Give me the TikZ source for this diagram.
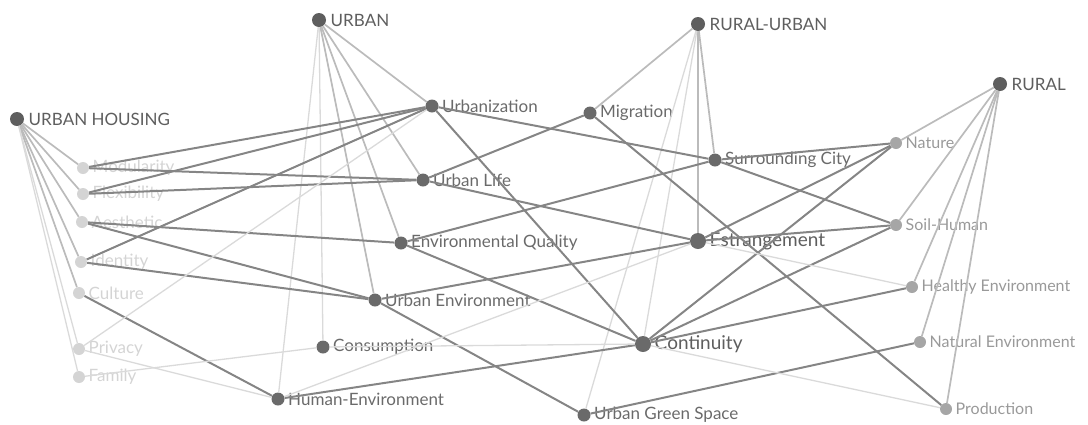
\documentclass[tikz,border=0pt]{standalone}
\usepackage{fontspec}
\setmainfont{Lato}
\usetikzlibrary{positioning}

\definecolor{hubgray}{HTML}{5E5E5E}
\definecolor{midgray}{HTML}{6A6A6A}
\definecolor{leftgray}{HTML}{D4D4D4}
\definecolor{rightgray}{HTML}{A6A6A6}
\definecolor{strongline}{HTML}{858585}
\definecolor{mediumline}{HTML}{BBBBBB}
\definecolor{faintline}{HTML}{DADADA}

\begin{document}
\begin{tikzpicture}[x=1pt,y=-1pt,font=\fontsize{17}{20}\selectfont]
  \tikzstyle{hub}=[circle,fill=hubgray,inner sep=0pt,minimum size=14pt]
  \tikzstyle{theme}=[circle,fill=midgray,inner sep=0pt,minimum size=13pt]
  \tikzstyle{core}=[circle,fill=midgray,inner sep=0pt,minimum size=16pt]
  \tikzstyle{lefty}=[circle,fill=leftgray,inner sep=0pt,minimum size=12pt]
  \tikzstyle{righty}=[circle,fill=rightgray,inner sep=0pt,minimum size=12pt]
  \tikzstyle{hubtext}=[text=hubgray,label distance=1pt]
  \tikzstyle{themetext}=[text=midgray,label distance=0pt]
  \tikzstyle{coretext}=[text=hubgray,font=\fontsize{19}{22}\selectfont,label distance=0pt]
  \tikzstyle{lefttext}=[text=leftgray,label distance=0pt]
  \tikzstyle{righttext}=[text=rightgray!92!black,font=\fontsize{16}{19}\selectfont,label distance=0pt]
  \tikzstyle{strong}=[draw=strongline,line width=2pt]
  \tikzstyle{medium}=[draw=mediumline,line width=1.7pt]
  \tikzstyle{faint}=[draw=faintline,line width=1.3pt]
  \useasboundingbox (0,0) rectangle (1088,424);

  % top categories
  \node[hub,label={[hubtext]right:URBAN HOUSING}] (housing) at (17,119) {};
  \node[hub,label={[hubtext]right:URBAN}] (urban) at (319,20) {};
  \node[hub,label={[hubtext]right:RURAL-URBAN}] (ruralurban) at (698,24) {};
  \node[hub,label={[hubtext]right:RURAL}] (rural) at (1000,84) {};

  % left group
  \node[lefty,label={[lefttext]right:Modularity}] (modularity) at (83,168) {};
  \node[lefty,label={[lefttext]right:Flexibility}] (flexibility) at (83,194) {};
  \node[lefty,label={[lefttext]right:Aesthetic}] (aesthetic) at (82,222) {};
  \node[lefty,label={[lefttext]right:Identity}] (identity) at (81,262) {};
  \node[lefty,label={[lefttext]right:Culture}] (culture) at (79,293) {};
  \node[lefty,label={[lefttext]right:Privacy}] (privacy) at (79,349) {};
  \node[lefty,label={[lefttext]right:Family}] (family) at (79,377) {};

  % middle group
  \node[theme,label={[themetext]right:Urbanization}] (urbanization) at (432,106) {};
  \node[theme,label={[themetext]right:Urban Life}] (urbanlife) at (423,180) {};
  \node[theme,label={[themetext]right:Environmental Quality}] (envquality) at (401,243) {};
  \node[theme,label={[themetext]right:Urban Environment}] (urbanenv) at (375,300) {};
  \node[theme,label={[themetext]right:Consumption}] (consumption) at (323,347) {};
  \node[theme,label={[themetext]right:Human-Environment}] (humanenv) at (278,399) {};
  \node[theme,label={[themetext]right:Migration}] (migration) at (590,113) {};
  \node[theme,label={[themetext]right:Surrounding City}] (surrounding) at (715,160) {};
  \node[core,label={[coretext]right:Estrangement}] (estrangement) at (698,241) {};
  \node[core,label={[coretext]right:Continuity}] (continuity) at (643,344) {};
  \node[theme,label={[themetext]right:Urban Green Space}] (greenspace) at (584,415) {};

  % right group
  \node[righty,label={[righttext]right:Nature}] (nature) at (896,143) {};
  \node[righty,label={[righttext]right:Soil-Human}] (soilhuman) at (896,225) {};
  \node[righty,label={[righttext]right:Healthy Environment}] (healthy) at (912,287) {};
  \node[righty,label={[righttext]right:Natural Environment}] (natural) at (920,342) {};
  \node[righty,label={[righttext]right:Production}] (production) at (946,409) {};

  % category links
  \foreach \t in {modularity,flexibility,aesthetic,identity,culture}
    \draw[medium] (housing) -- (\t);
  \foreach \t in {privacy,family}
    \draw[faint] (housing) -- (\t);
  \foreach \t in {urbanization,urbanlife,envquality,urbanenv}
    \draw[medium] (urban) -- (\t);
  \foreach \t in {consumption,humanenv}
    \draw[faint] (urban) -- (\t);
  \foreach \t in {migration,surrounding,estrangement}
    \draw[medium] (ruralurban) -- (\t);
  \foreach \t in {continuity,greenspace}
    \draw[faint] (ruralurban) -- (\t);
  \foreach \t in {nature,soilhuman,healthy,natural,production}
    \draw[medium] (rural) -- (\t);

  % strong links
  \foreach \a/\b in {urbanization/modularity,urbanization/flexibility,urbanization/identity,
      urbanlife/modularity,urbanlife/flexibility,aesthetic/envquality,aesthetic/urbanenv,
      identity/urbanenv,culture/humanenv,urbanization/surrounding,urbanization/continuity,
      migration/urbanlife,migration/production,urbanlife/estrangement,envquality/surrounding,
      envquality/continuity,urbanenv/estrangement,urbanenv/greenspace,humanenv/continuity,
      greenspace/natural,surrounding/nature,surrounding/soilhuman,estrangement/nature,
      estrangement/soilhuman,continuity/nature,continuity/soilhuman,continuity/healthy}
    \draw[strong] (\a) -- (\b);

  % faint links
  \foreach \a/\b in {privacy/urbanization,privacy/humanenv,family/consumption,
      consumption/continuity,humanenv/estrangement,estrangement/healthy,continuity/production}
    \draw[faint] (\a) -- (\b);
\end{tikzpicture}
\end{document}
